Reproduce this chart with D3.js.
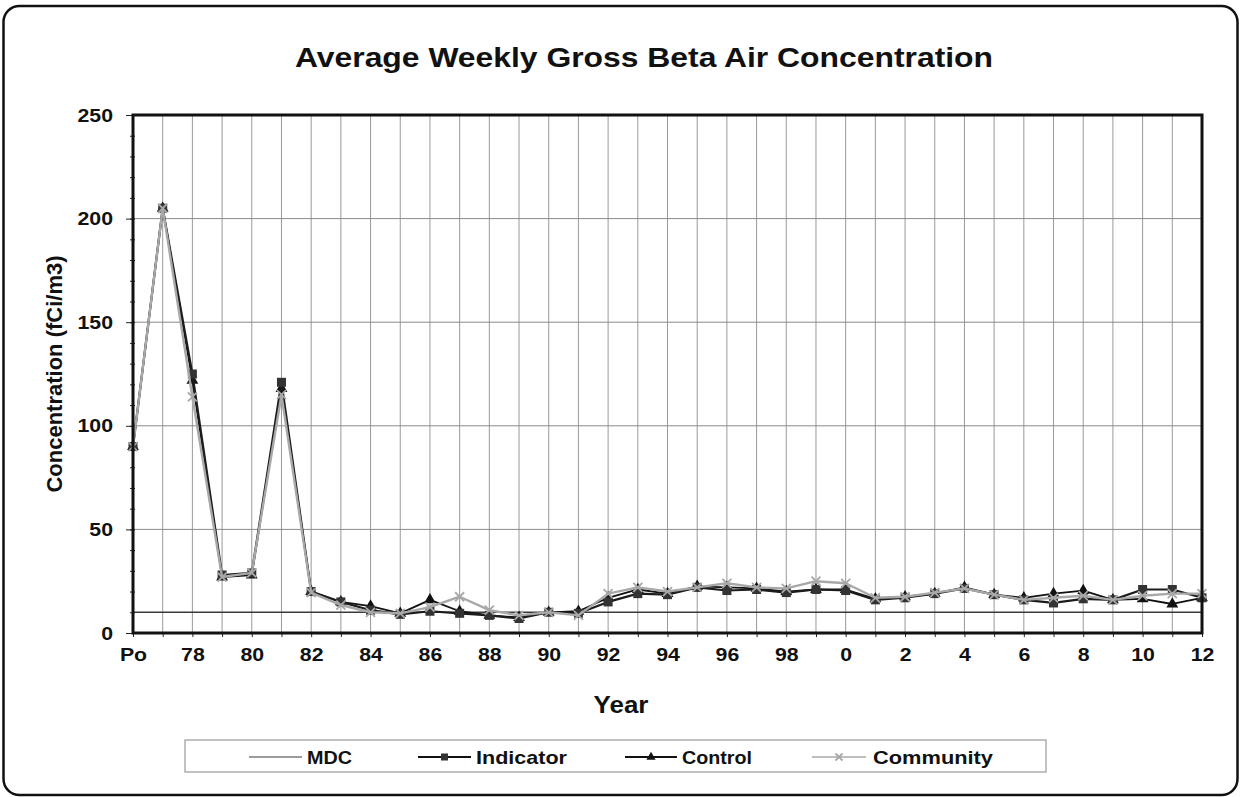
<!DOCTYPE html>
<html>
<head>
<meta charset="utf-8">
<script src="https://cdn.jsdelivr.net/npm/d3@7"></script>
<style>
  html, body { margin: 0; padding: 0; background: #fff; }
  svg { display: block; font-family: "Liberation Sans", Arial, sans-serif; }
</style>
</head>
<body>
<svg id="chart" width="1241" height="797"></svg>
<script>
// Sampling periods: pre-operational, then 1977–1999, then 2000–2012
const categories = ["Po","77","78","79","80","81","82","83","84","85","86","87","88","89","90","91","92","93","94","95","96","97","98","99","0","1","2","3","4","5","6","7","8","9","10","11","12"];
const tickLabels = ["Po","78","80","82","84","86","88","90","92","94","96","98","0","2","4","6","8","10","12"];
const yTicks = [0, 50, 100, 150, 200, 250];

// Average weekly gross beta (fCi/m3)
const mdc       = [10,10,10,10,10,10,10,10,10,10,10,10,10,10,10,10,10,10,10,10,10,10,10,10,10,10,10,10,10,10,10,10,10,10,10,10,10];
const indicator = [90,205,125,28,29,121,20,15,11,9,10.5,9.5,8.5,7,10,9.5,15,19,18.5,22,20.5,21,19.5,21,20.5,16,17,19,21.5,18.5,16,14.5,16.5,16,21,21,17];
const control   = [90,205,122,27,28,118,20,15,13,9.5,16,10.5,8.5,7.5,10,10.5,17,21,19,22.5,22,21.5,20,21,21,16.5,17.5,19,22,18.5,17,19,20.5,16,16.5,14,17];
const community = [90,205,114,27,29,115,19.5,13.5,10,9.5,12.5,17.5,11,8.5,10,8.5,19,22,20,22,24,22,21.5,25,24,17,17.5,19.5,21.5,18.5,16,17,18,16,18,19,19];

const svg = d3.select("#chart");
const plot = { left: 133, right: 1202, top: 115, bottom: 633 };

const x = d3.scalePoint().domain(categories).range([plot.left, plot.right]);
const y = d3.scaleLinear().domain([0, 250]).range([plot.bottom, plot.top]);

// Widen bold labels a little (Arial-style faces set slightly extended)
function widen(sel, factor) {
  sel.each(function () {
    const w = this.getComputedTextLength();
    if (w > 0) {
      d3.select(this).attr("textLength", w * factor).attr("lengthAdjust", "spacingAndGlyphs");
    }
  });
}

// Outer rounded frame
svg.append("rect")
  .attr("x", 3.5).attr("y", 6).attr("width", 1234).attr("height", 789)
  .attr("rx", 16).attr("ry", 16)
  .attr("fill", "#fff").attr("stroke", "#111").attr("stroke-width", 2.5);

// Title
svg.append("text")
  .attr("x", 644).attr("y", 67)
  .attr("text-anchor", "middle")
  .attr("font-size", 28).attr("font-weight", "bold").attr("fill", "#111")
  .text("Average Weekly Gross Beta Air Concentration")
  .attr("textLength", 698).attr("lengthAdjust", "spacingAndGlyphs");

// Gridlines
const g = svg.append("g");
g.selectAll("line.vgrid")
  .data(categories.slice(1, -1))
  .join("line")
  .attr("class", "vgrid")
  .attr("x1", d => x(d)).attr("x2", d => x(d))
  .attr("y1", plot.top).attr("y2", plot.bottom)
  .attr("stroke", "#9a9a9a").attr("stroke-width", 1);

g.selectAll("line.hgrid")
  .data(yTicks.slice(1, -1))
  .join("line")
  .attr("class", "hgrid")
  .attr("x1", plot.left).attr("x2", plot.right)
  .attr("y1", d => y(d)).attr("y2", d => y(d))
  .attr("stroke", "#8a8a8a").attr("stroke-width", 1);

// Y axis: minor ticks every 10, labels every 50
const yMinor = d3.axisLeft(y).tickValues(d3.range(0, 251, 10)).tickSize(5).tickFormat("");
svg.append("g").attr("transform", `translate(${plot.left + 2},0)`).call(yMinor)
  .call(a => a.select(".domain").remove())
  .call(a => a.selectAll("line").attr("stroke", "#222"));

const yAxis = d3.axisLeft(y).tickValues(yTicks).tickSize(7).tickPadding(13);
svg.append("g").attr("transform", `translate(${plot.left},0)`).call(yAxis)
  .call(a => a.select(".domain").remove())
  .call(a => a.selectAll("line").attr("stroke", "#222"))
  .call(a => a.selectAll("text")
    .attr("font-size", 19).attr("font-weight", "bold").attr("fill", "#111")
    .attr("font-family", "Liberation Sans, Arial, sans-serif"))
  .call(a => widen(a.selectAll("text"), 1.12));

// X axis: tick at each period, label every other one
const xAxis = d3.axisBottom(x).tickSize(4).tickPadding(11)
  .tickFormat(d => tickLabels.includes(d) && categories.indexOf(d) % 2 === 0 ? d : "");
svg.append("g").attr("transform", `translate(0,${plot.bottom})`).call(xAxis)
  .call(a => a.select(".domain").remove())
  .call(a => a.selectAll("line").attr("stroke", "#222"))
  .call(a => a.selectAll("text")
    .attr("font-size", 19).attr("font-weight", "bold").attr("fill", "#111")
    .attr("font-family", "Liberation Sans, Arial, sans-serif"))
  .call(a => widen(a.selectAll("text"), 1.12));

// Axis titles
svg.append("text")
  .attr("x", 621).attr("y", 713)
  .attr("text-anchor", "middle")
  .attr("font-size", 24).attr("font-weight", "bold").attr("fill", "#111")
  .text("Year")
  .call(t => widen(t, 1.08));

svg.append("text")
  .attr("transform", "translate(62,374) rotate(-90)")
  .attr("text-anchor", "middle")
  .attr("font-size", 22).attr("font-weight", "bold").attr("fill", "#111")
  .text("Concentration (fCi/m3)");

// Series
const line = d3.line().x((d, i) => x(categories[i])).y(d => y(d));

const series = [
  { name: "MDC",       values: mdc,       color: "#3a3a3a", width: 1.6, marker: null },
  { name: "Control",   values: control,   color: "#111",    width: 1.8, marker: "triangle" },
  { name: "Indicator", values: indicator, color: "#1c1c1c", width: 2.2, marker: "square" },
  { name: "Community", values: community, color: "#a8a8a8", width: 2.4, marker: "cross" }
];

function drawMarker(sel, type, color, cx, cy, size) {
  if (type === "square") {
    sel.append("rect")
      .attr("x", cx - size / 2).attr("y", cy - size / 2)
      .attr("width", size).attr("height", size)
      .attr("fill", "#333").attr("stroke", "none");
  } else if (type === "triangle") {
    sel.append("path")
      .attr("d", d3.symbol(d3.symbolTriangle, size * size * 0.75)())
      .attr("transform", `translate(${cx},${cy})`)
      .attr("fill", "#111");
  } else if (type === "cross") {
    const h = size / 2;
    sel.append("path")
      .attr("d", `M${cx - h},${cy - h}L${cx + h},${cy + h}M${cx - h},${cy + h}L${cx + h},${cy - h}`)
      .attr("stroke", color).attr("stroke-width", 1.8).attr("fill", "none");
  }
}

const seriesG = svg.append("g");
series.forEach(s => {
  const sg = seriesG.append("g");
  sg.append("path")
    .datum(s.values)
    .attr("d", line)
    .attr("fill", "none")
    .attr("stroke", s.color)
    .attr("stroke-width", s.width)
    .attr("stroke-linejoin", "round");
  if (s.marker) {
    s.values.forEach((v, i) => drawMarker(sg, s.marker, s.color, x(categories[i]), y(v), 9));
  }
});

// Plot frame
svg.append("rect")
  .attr("x", plot.left).attr("y", plot.top)
  .attr("width", plot.right - plot.left).attr("height", plot.bottom - plot.top)
  .attr("fill", "none").attr("stroke", "#111").attr("stroke-width", 3);

// Legend
const legend = svg.append("g");
legend.append("rect")
  .attr("x", 185).attr("y", 740).attr("width", 861).attr("height", 32)
  .attr("fill", "#fff").attr("stroke", "#999").attr("stroke-width", 1.2);

const legendItems = [
  { name: "MDC",       color: "#3a3a3a", width: 1.2, marker: null,       x0: 249, x1: 302, tx: 307, tw: 45 },
  { name: "Indicator", color: "#111",    width: 2.2, marker: "square",   x0: 418, x1: 471, tx: 476, tw: 91 },
  { name: "Control",   color: "#111",    width: 1.8, marker: "triangle", x0: 625, x1: 677, tx: 682, tw: 70 },
  { name: "Community", color: "#a8a8a8", width: 1.4, marker: "cross",    x0: 812, x1: 866, tx: 873, tw: 120 }
];
legendItems.forEach(it => {
  const lg = legend.append("g");
  lg.append("line")
    .attr("x1", it.x0).attr("x2", it.x1).attr("y1", 757).attr("y2", 757)
    .attr("stroke", it.color).attr("stroke-width", it.width);
  if (it.marker) drawMarker(lg, it.marker, it.color, (it.x0 + it.x1) / 2, 757, 7);
  lg.append("text")
    .attr("x", it.tx).attr("y", 764)
    .attr("font-size", 19).attr("font-weight", "bold").attr("fill", "#111")
    .attr("textLength", it.tw).attr("lengthAdjust", "spacingAndGlyphs")
    .text(it.name);
});
</script>
</body>
</html>
